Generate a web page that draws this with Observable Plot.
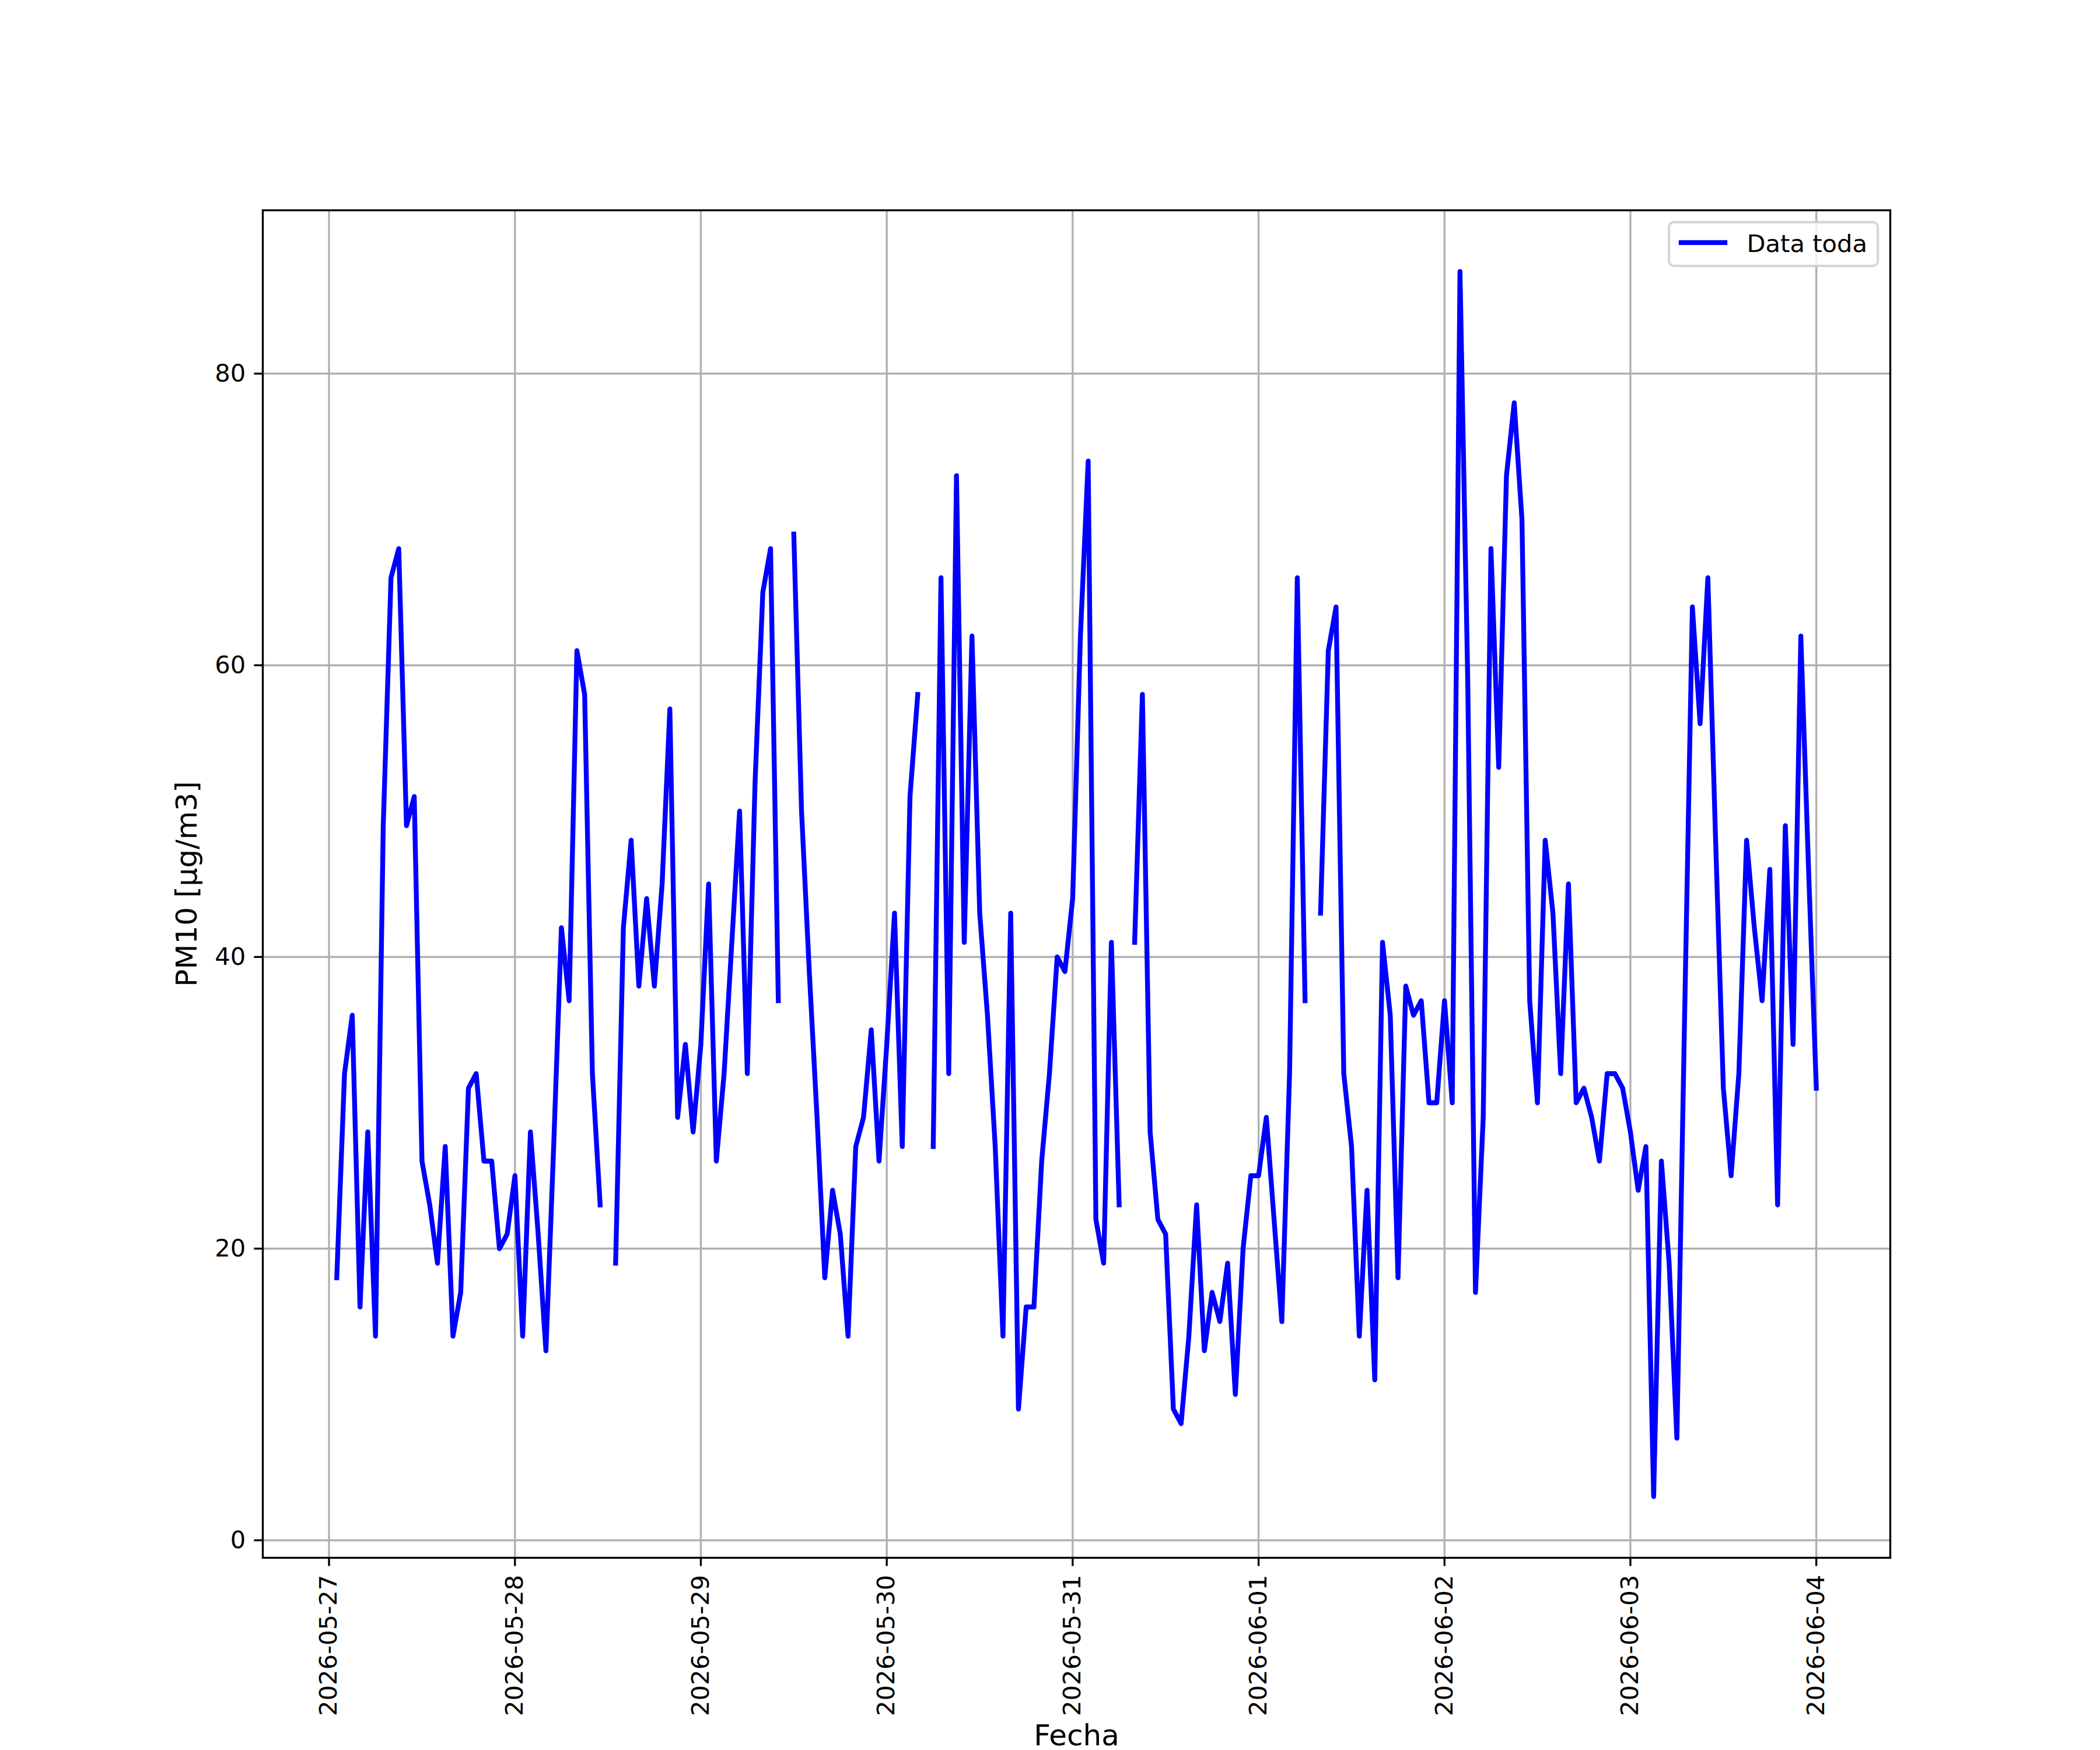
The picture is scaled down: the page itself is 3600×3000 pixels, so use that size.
<!DOCTYPE html>
<html>
<head>
<meta charset="utf-8">
<script src="https://cdn.jsdelivr.net/npm/d3@7"></script>
<script src="https://cdn.jsdelivr.net/npm/@observablehq/plot@0.6"></script>
<style>
  html, body { margin: 0; padding: 0; background: #ffffff; }
</style>
</head>
<body>
<div id="chart"></div>
<script>
// Hourly PM10 values for each date, hours 01:00 ... 24:00 (= 00:00 of next day). NaN = missing.
const d20260527 = [18,32,36,16,28,14,49,66,68,49,51,26,23,19,27,14,17,31,32,26,26,20,21,25];
const d20260528 = [14,28,21,13,27,42,37,61,58,32,23,NaN,19,42,48,38,44,38,45,57,29,34,28,34];
const d20260529 = [45,26,32,41,50,32,52,65,68,37,NaN,69,50,39,29,18,24,21,14,27,29,35,26,34];
const d20260530 = [43,27,51,58,NaN,27,66,32,73,41,62,43,36,27,14,43,9,16,16,26,32,40,39,44];
const d20260531 = [62,74,22,19,41,23,NaN,41,58,28,22,21,9,8,14,23,13,17,15,19,10,20,25,25];
const d20260601 = [29,22,15,32,66,37,NaN,43,61,64,32,27,14,24,11,41,36,18,38,36,37,30,30,37];
const d20260602 = [30,87,59,17,29,68,53,73,78,70,37,30,48,43,32,45,30,31,29,26,32,32,31,28];
const d20260603 = [24,27,3,26,19,7,36,64,56,66,48,31,25,32,48,42,37,46,23,49,34,62,46,31];

const dayLabels = ["2026-05-27","2026-05-28","2026-05-29","2026-05-30","2026-05-31","2026-06-01","2026-06-02","2026-06-03","2026-06-04"];
const yTicks = [0, 20, 40, 60, 80];
const seriesName = "Data toda";
const xLabel = "Fecha";

const dayData = [
  ["2026-05-27", d20260527], ["2026-05-28", d20260528], ["2026-05-29", d20260529],
  ["2026-05-30", d20260530], ["2026-05-31", d20260531], ["2026-06-01", d20260601],
  ["2026-06-02", d20260602], ["2026-06-03", d20260603]
];

const rows = [];
for (const [day, vals] of dayData) {
  const t0 = new Date(day + "T00:00:00Z");
  vals.forEach((v, i) => rows.push({date: new Date(+t0 + (i + 1) * 3600e3), value: v}));
}

// matplotlib-like 5% margins
const tMin = rows[0].date, tMax = rows[rows.length - 1].date;
const tPad = (tMax - tMin) * 0.05;
const vMin = d3.min(rows, d => d.value), vMax = d3.max(rows, d => d.value);
const vPad = (vMax - vMin) * 0.05;
const tickDates = dayLabels.map(s => new Date(s + "T00:00:00Z"));

const W = 3600, H = 3000;
const mL = 450, mR = 360, mT = 360, mB = 330;
const pt = 300 / 72;          // px per point at 300 dpi
const fs = 10 * pt;           // tick & legend font
const lfs = 12 * pt;          // axis label font

const chart = Plot.plot({
  width: W, height: H,
  marginLeft: mL, marginRight: mR, marginTop: mT, marginBottom: mB,
  style: {fontFamily: "'DejaVu Sans', sans-serif", fontSize: fs + "px", background: "#ffffff", color: "#000000", overflow: "visible"},
  x: {type: "utc", domain: [new Date(+tMin - tPad), new Date(+tMax + tPad)]},
  y: {domain: [vMin - vPad, vMax + vPad]},
  marks: [
    Plot.gridX({ticks: tickDates, stroke: "#b0b0b0", strokeOpacity: 1, strokeWidth: 0.8 * pt}),
    Plot.gridY({ticks: yTicks, stroke: "#b0b0b0", strokeOpacity: 1, strokeWidth: 0.8 * pt}),
    Plot.line(rows, {x: "date", y: "value", stroke: "#0000ff", strokeWidth: 2 * pt, strokeLinejoin: "round", strokeLinecap: "square"}),
    Plot.axisX({ticks: tickDates, tickFormat: d3.utcFormat("%Y-%m-%d"), tickRotate: -90, tickSize: 3.5 * pt, tickPadding: 3.5 * pt, strokeWidth: 0.8 * pt, label: null, fill: "#000"}),
    Plot.axisY({ticks: yTicks, tickFormat: d => String(d), tickSize: 3.5 * pt, tickPadding: 3.5 * pt, strokeWidth: 0.8 * pt, label: null, fill: "#000"}),
    Plot.text([xLabel], {text: d => d, frameAnchor: "bottom", dy: 305, lineAnchor: "middle", textAnchor: "middle", fontSize: lfs, fill: "#000"}),
    Plot.text(["PM10 [μg/m3]"], {text: d => d, frameAnchor: "left", dx: -129.5, rotate: -90, lineAnchor: "middle", textAnchor: "middle", fontSize: lfs, fill: "#000", ariaLabel: "ylabel"}),
    Plot.frame({stroke: "#000000", strokeWidth: 0.8 * pt})
  ]
});

document.getElementById("chart").appendChild(chart);

// y-label with math-italic units (as in matplotlib mathtext)
const svg = d3.select(chart.tagName.toLowerCase() === "svg" ? chart : chart.querySelector("svg"));
const yl = svg.select('g[aria-label="ylabel"] text');
if (!yl.empty()) {
  yl.text(null);
  yl.append("tspan").text("PM10 [");
  yl.append("tspan").style("font-style", "italic").attr("font-style", "italic").text("μg");
  yl.append("tspan").text("/");
  yl.append("tspan").style("font-style", "italic").attr("font-style", "italic").text("m");
  yl.append("tspan").text("3]");
}

// legend (upper right, matplotlib style)
const boxRight = W - mR - 0.5 * fs, boxTop = mT + 0.5 * fs;
const boxW = 358, boxH = 75;
const lg = svg.append("g").attr("aria-label", "legend");
lg.append("rect")
  .attr("x", boxRight - boxW).attr("y", boxTop).attr("width", boxW).attr("height", boxH)
  .attr("rx", 0.2 * fs).attr("ry", 0.2 * fs)
  .attr("fill", "#ffffff").attr("fill-opacity", 0.8)
  .attr("stroke", "#cccccc").attr("stroke-opacity", 0.8).attr("stroke-width", 1 * pt);
const hx0 = boxRight - boxW + 0.4 * fs;
lg.append("line")
  .attr("x1", hx0).attr("x2", hx0 + 2 * fs)
  .attr("y1", boxTop + 35).attr("y2", boxTop + 35)
  .attr("stroke", "#0000ff").attr("stroke-width", 2 * pt).attr("stroke-linecap", "butt");
lg.append("text")
  .attr("x", hx0 + 2.8 * fs).attr("y", boxTop + 51)
  .attr("text-anchor", "start")
  .style("text-anchor", "start")
  .attr("font-size", fs).attr("fill", "#000")
  .text(seriesName);
</script>
</body>
</html>
